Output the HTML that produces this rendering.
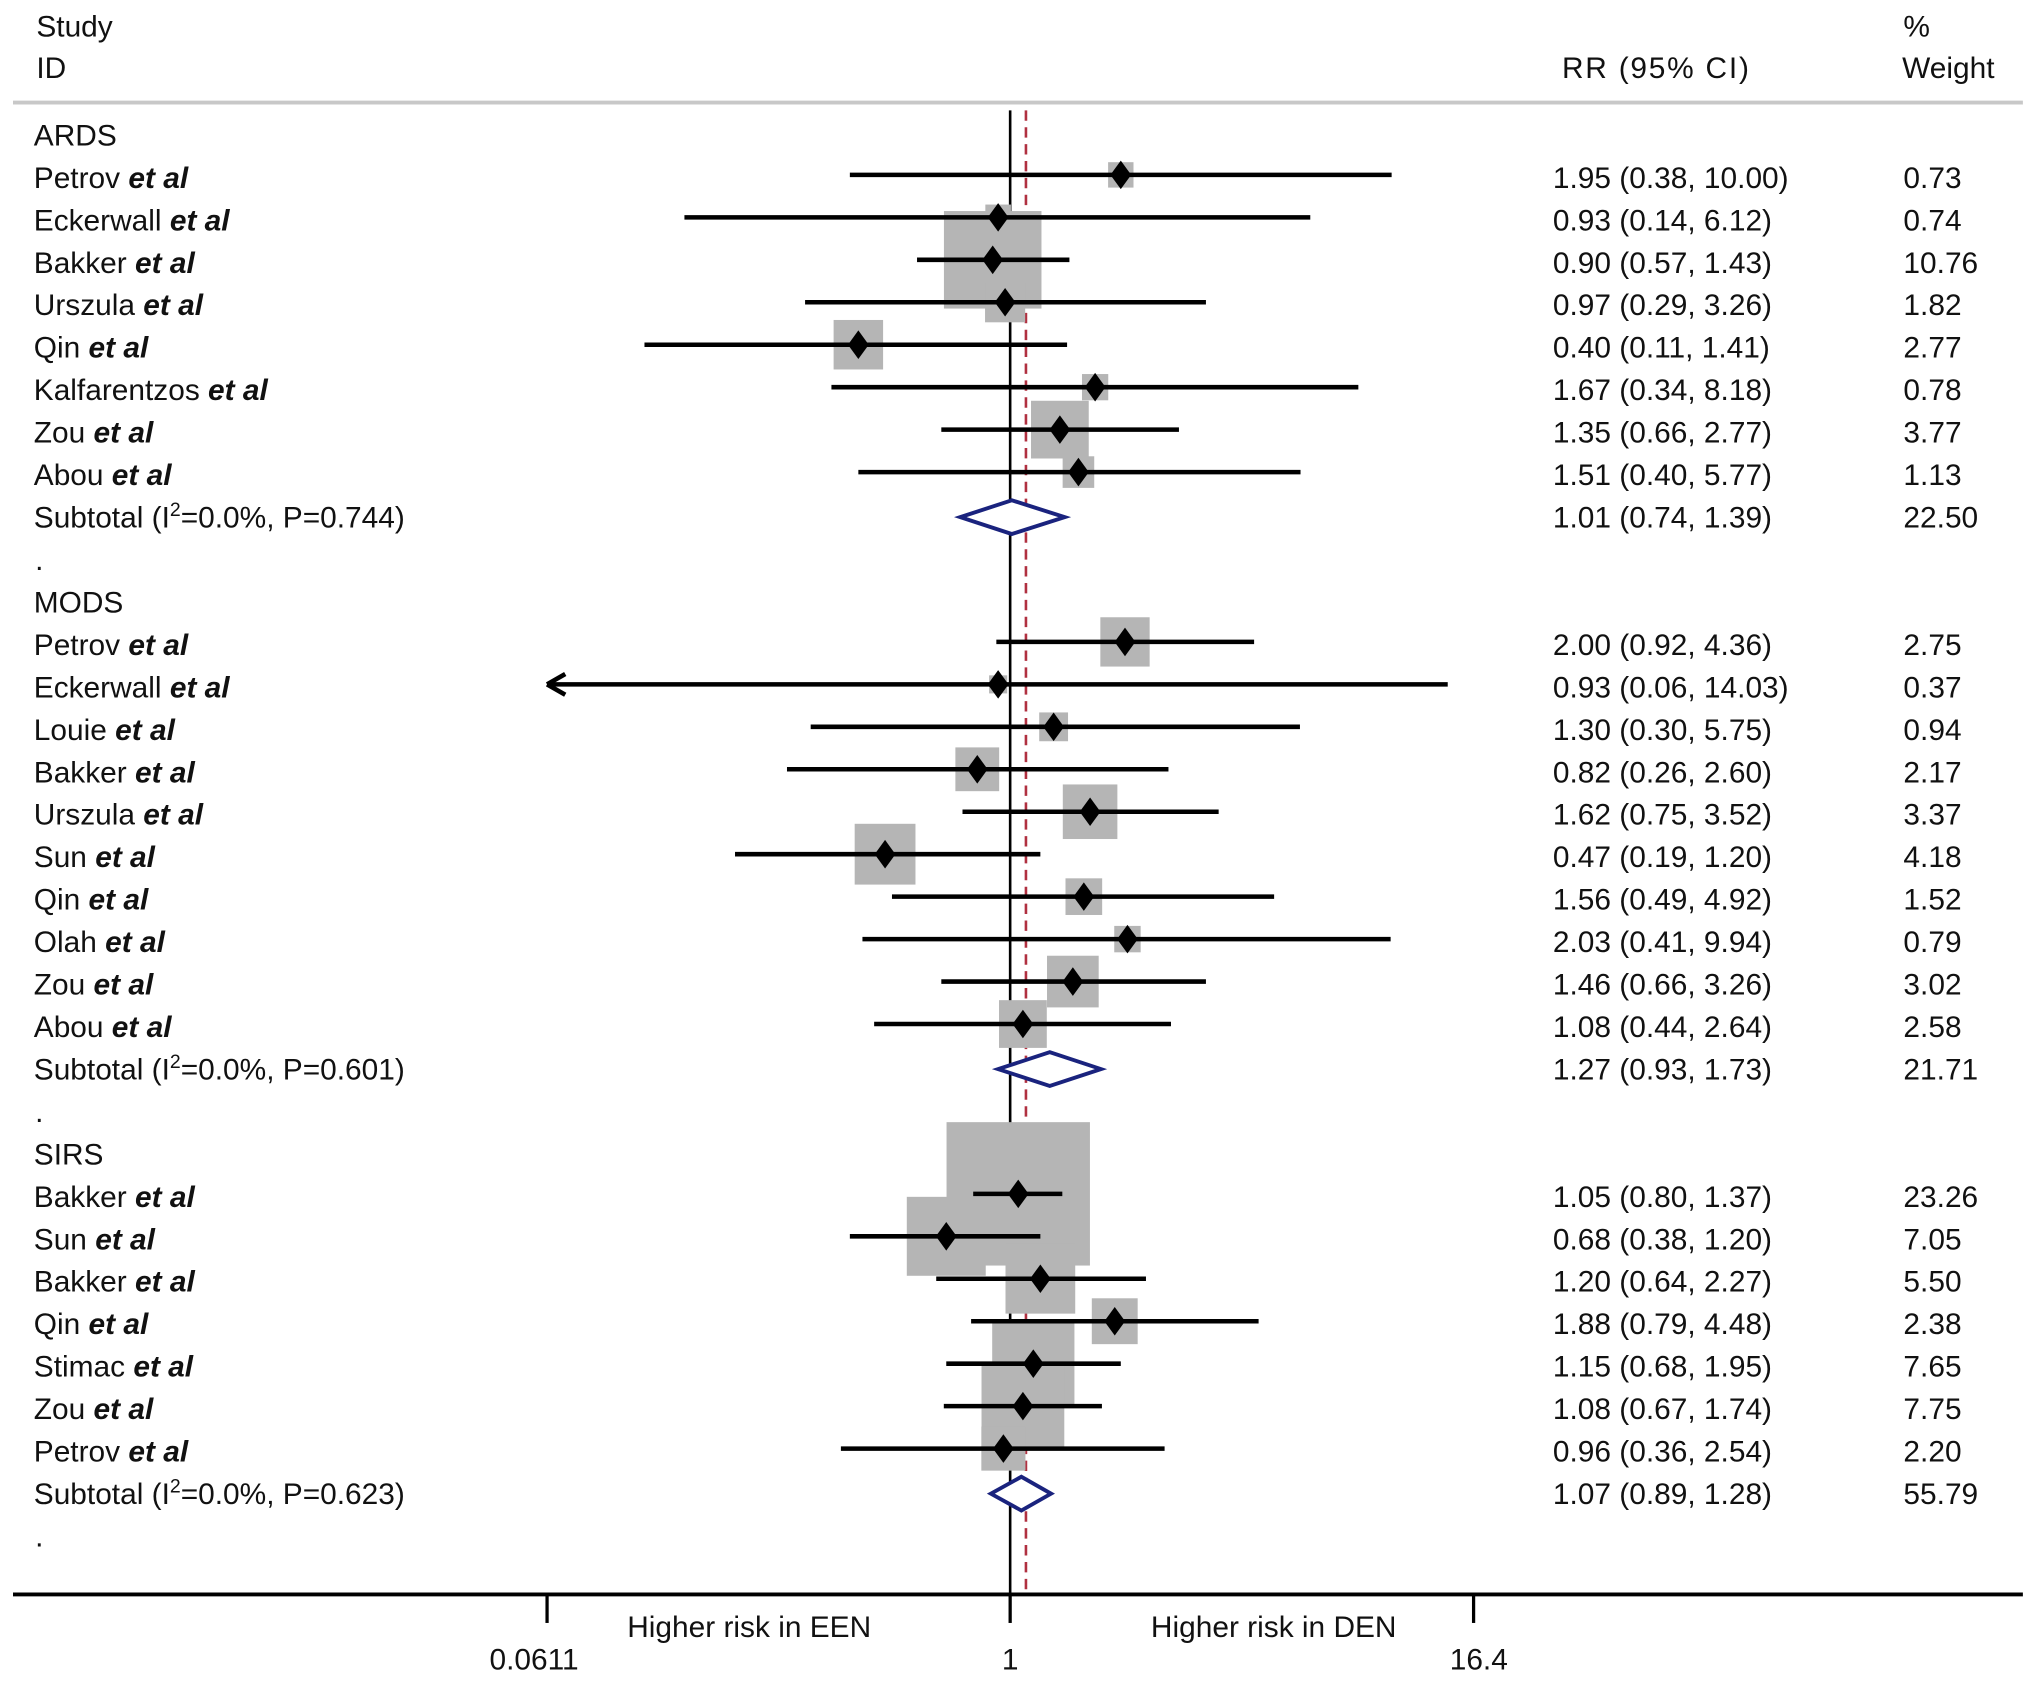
<!DOCTYPE html>
<html><head><meta charset="utf-8"><style>
html,body{margin:0;padding:0;background:#fff;}
svg{display:block;}
text{font-family:"Liberation Sans",sans-serif;font-size:23px;fill:#111;}
</style></head><body>
<svg id="chart" width="2032" height="1681" viewBox="0 0 1565 1294.7" xmlns="http://www.w3.org/2000/svg">
<text x="28" y="28">Study</text>
<text x="28" y="60">ID</text>
<text x="1203" y="60" textLength="144">RR (95% CI)</text>
<text x="1466" y="28">%</text>
<text x="1465" y="60">Weight</text>
<line x1="10" y1="79" x2="1558" y2="79" stroke="#c8c8c8" stroke-width="3"/>
<g id="g-lines"></g><g id="g-boxes"></g><g id="g-marks"></g><g id="g-text"></g><g id="g-axis"></g>
</svg>
<script>
const groupNames = ["ARDS","MODS","SIRS"];
const studies = [
 ["Petrov","Eckerwall","Bakker","Urszula","Qin","Kalfarentzos","Zou","Abou"],
 ["Petrov","Eckerwall","Louie","Bakker","Urszula","Sun","Qin","Olah","Zou","Abou"],
 ["Bakker","Sun","Bakker","Qin","Stimac","Zou","Petrov"]
];
const rr = [[1.95,0.93,0.90,0.97,0.40,1.67,1.35,1.51],[2.00,0.93,1.30,0.82,1.62,0.47,1.56,2.03,1.46,1.08],[1.05,0.68,1.20,1.88,1.15,1.08,0.96]];
const lo = [[0.38,0.14,0.57,0.29,0.11,0.34,0.66,0.40],[0.92,0.06,0.30,0.26,0.75,0.19,0.49,0.41,0.66,0.44],[0.80,0.38,0.64,0.79,0.68,0.67,0.36]];
const hi = [[10.00,6.12,1.43,3.26,1.41,8.18,2.77,5.77],[4.36,14.03,5.75,2.60,3.52,1.20,4.92,9.94,3.26,2.64],[1.37,1.20,2.27,4.48,1.95,1.74,2.54]];
const weights = [["0.73","0.74","10.76","1.82","2.77","0.78","3.77","1.13"],["2.75","0.37","0.94","2.17","3.37","4.18","1.52","0.79","3.02","2.58"],["23.26","7.05","5.50","2.38","7.65","7.75","2.20"]];
const subRR = [1.01,1.27,1.07];
const subLo = [0.74,0.93,0.89];
const subHi = [1.39,1.73,1.28];
const subI2 = ["0.0%","0.0%","0.0%"];
const subP = ["0.744","0.601","0.623"];
const subW = ["22.50","21.71","55.79"];
const overall = 1.10;
const tickVals = [0.0611,1,16.4];
const tickLabels = ["0.0611","1","16.4"];

const NS="http://www.w3.org/2000/svg";
const X0=778, PX=127.6, XMIN=0.0611, XMAX=16.4;
function xs(v){return X0+Math.log(v)*PX;}
function yRow(k){return 104+32.7*k;}
function mk(tag,attrs,parent){const e=document.createElementNS(NS,tag);for(const k in attrs)e.setAttribute(k,attrs[k]);document.getElementById(parent).appendChild(e);return e;}
function fmt(v){return v.toFixed(2);}

let l=mk('line',{x1:X0,y1:85,x2:X0,y2:1228,stroke:'#000','stroke-width':2},'g-lines');


l=mk('line',{x1:xs(overall),y1:85,x2:xs(overall),y2:1228,stroke:'#b03040','stroke-width':2,'stroke-dasharray':'8,5'},'g-lines');



let k=0;
for(let g=0;g<groupNames.length;g++){
  let t=mk('text',{x:26,y:yRow(k)+8},'g-text');t.textContent=groupNames[g];
  
  
  k++;
  for(let i=0;i<studies[g].length;i++){
    const y=yRow(k), cy=y-2;
    const side=22.9*Math.sqrt(parseFloat(weights[g][i]));
    let b=mk('rect',{x:xs(rr[g][i])-side/2,y:cy-side/2,width:side,height:side,fill:'#b5b5b5'},'g-boxes');
    
    
    const x1=Math.max(xs(Math.max(lo[g][i],XMIN)),xs(XMIN)-4), x2=xs(Math.min(hi[g][i],XMAX));
    let c=mk('line',{x1:x1,y1:cy,x2:x2,y2:cy,stroke:'#000','stroke-width':3.5},'g-marks');
    
    
    if(lo[g][i]<XMIN){
      let a=mk('path',{d:`M${x1} ${cy} l14 -8 M${x1} ${cy} l14 8`,stroke:'#000','stroke-width':3.5,fill:'none'},'g-marks');
      
      
    }
    const px=xs(rr[g][i]);
    let d=mk('path',{d:`M${px} ${cy-11} L${px+8} ${cy} L${px} ${cy+11} L${px-8} ${cy} Z`,fill:'#000'},'g-marks');
    
    
    t=mk('text',{x:26,y:y+8},'g-text');
    t.innerHTML=studies[g][i]+' <tspan font-weight="bold" font-style="italic">et al</tspan>';
    
    
    t=mk('text',{x:1196,y:y+8},'g-text');
    t.textContent=`${fmt(rr[g][i])} (${fmt(lo[g][i])}, ${fmt(hi[g][i])})`;
    
    
    t=mk('text',{x:1466,y:y+8},'g-text');
    t.textContent=weights[g][i];
    
    
    k++;
  }
  const y=yRow(k), cy=y;
  let dm=mk('path',{d:`M${xs(subLo[g])} ${cy} L${xs(subRR[g])} ${cy-13} L${xs(subHi[g])} ${cy} L${xs(subRR[g])} ${cy+13} Z`,fill:'#fff',stroke:'#1a237e','stroke-width':3},'g-marks');
  
  
  t=mk('text',{x:26,y:y+8},'g-text');
  t.innerHTML=`Subtotal  (I<tspan dy="-9" font-size="15">2</tspan><tspan dy="9">=${subI2[g]}, P=${subP[g]})</tspan>`;
  
  
  t=mk('text',{x:1196,y:y+8},'g-text');
  t.textContent=`${fmt(subRR[g])} (${fmt(subLo[g])}, ${fmt(subHi[g])})`;
  
  
  t=mk('text',{x:1466,y:y+8},'g-text');
  t.textContent=subW[g];
  
  
  k++;
  t=mk('text',{x:27,y:yRow(k)+8},'g-text');t.textContent='.';
  
  
  k++;
}
let ax=mk('line',{x1:10,y1:1228,x2:1558,y2:1228,stroke:'#000','stroke-width':3},'g-axis');


for(let i=0;i<tickVals.length;i++){
  const x=xs(tickVals[i]);
  let tk=mk('line',{x1:x,y1:1229,x2:x,y2:1250,stroke:'#000','stroke-width':2.5},'g-axis');
  
  
  let tl=mk('text',{x:x-(i===0?10:i===2?-4:0),y:1286,'text-anchor':'middle'},'g-axis');
  tl.textContent=tickLabels[i];
  
  
}
let h=mk('text',{x:577,y:1261,'text-anchor':'middle','font-size':'25'},'g-axis');h.textContent='Higher risk in EEN';


h=mk('text',{x:981,y:1261,'text-anchor':'middle','font-size':'25'},'g-axis');h.textContent='Higher risk in DEN';


</script>
</body></html>
